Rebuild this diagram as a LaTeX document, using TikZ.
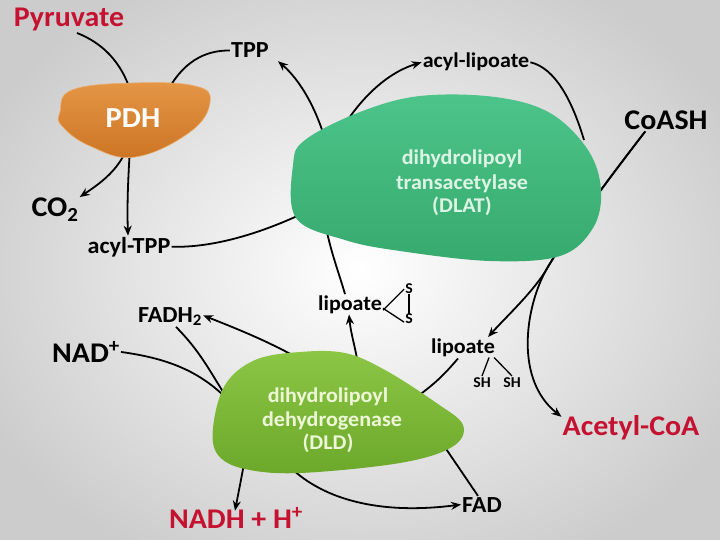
\documentclass[tikz,border=0pt]{standalone}
\usepackage{fontspec}
\setmainfont{Carlito}[FakeStretch=1.05]
\usetikzlibrary{arrows.meta}
\definecolor{crim}{HTML}{C41230}
\definecolor{pdhT}{HTML}{E49645}
\definecolor{pdhB}{HTML}{CC7424}
\definecolor{dlatT}{HTML}{4CC48A}
\definecolor{dlatB}{HTML}{37AA6E}
\definecolor{dldT}{HTML}{8CC645}
\definecolor{dldB}{HTML}{6CA82A}
\definecolor{dlatTxt}{HTML}{DDF3E4}
\definecolor{dldTxt}{HTML}{EEF6D8}
\tikzset{
  lbl/.style={font=\bfseries, inner sep=1pt, anchor=base, text=black},
  big/.style={lbl, font=\bfseries\fontsize{28.5}{32}\selectfont},
  mid/.style={lbl, font=\bfseries\fontsize{23}{27}\selectfont},
  sml/.style={lbl, font=\bfseries\fontsize{21}{25}\selectfont},
  tiny/.style={lbl, font=\bfseries\fontsize{15}{17}\selectfont},
  enz/.style={inner sep=0pt, anchor=base, font=\bfseries\fontsize{21}{25}\selectfont},
  conn/.style={line width=1.8pt, black},
  arr/.style={conn, -{Stealth[length=10pt,width=8pt]}},
  bond/.style={line width=1.3pt, black},
}
\begin{document}
\begin{tikzpicture}[x=1pt,y=-1pt]
\useasboundingbox (0,0) rectangle (720,540);
\shade[inner color=white, outer color={rgb,255:red,204;green,204;blue,204}] (-60,-60) rectangle (780,600);

% labels
\node[big, text=crim] (pyr) at (69,27) {Pyruvate};
\node[mid] (tpp) at (250,58) {TPP};
\node[big] (co2) at (55,217) {CO\textsubscript{2}};
\node[mid] (acyltpp) at (129,253) {acyl-TPP};
\node[sml] (acyllip) at (476,68) {acyl-lipoate};
\node[big] (coash) at (666,130) {CoASH};
\node[big, text=crim] (acoa) at (631,435) {Acetyl-CoA};
\node[sml] (lipsh) at (463,353) {lipoate};
\node[tiny] (sh1) at (482,387) {SH};
\node[tiny] (sh2) at (512,387) {SH};
\node[sml] (lipss) at (350,310) {lipoate};
\node[tiny] (s1) at (409,293) {S};
\node[tiny] (s2) at (409,323) {S};
\node[mid] (fadh) at (170,322) {FADH\textsubscript{2}};
\node[big] (nad) at (86,362) {NAD\textsuperscript{+}};
\node[big, text=crim] (nadh) at (236,528) {NADH + H\textsuperscript{+}};
\node[mid] (fad) at (482,512) {FAD};

% attachment points inside the enzymes
\coordinate (pdhA) at (132,96);
\coordinate (pdhB) at (166,94);
\coordinate (pdhC) at (127,148);
\coordinate (pdhD) at (130,148);
\coordinate (dlatA) at (310,210);
\coordinate (dlatB) at (330,150);
\coordinate (dlatC) at (328,150);
\coordinate (dlatD) at (325,222);
\coordinate (dlatE) at (584,140);
\coordinate (dldA) at (415,398);
\coordinate (dldB) at (358,365);
\coordinate (dldC) at (305,362);
\coordinate (dldD) at (230,402);
\coordinate (dldE) at (245,458);
\coordinate (dldF) at (285,462);
\coordinate (dldG) at (440,440);

% connectors
\draw[conn] (77,33) .. controls (100,42) and (122,60) .. (pdhA);
\draw[conn] (tpp.west) .. controls (205,50) and (182,62) .. (pdhB);
\draw[arr] (pdhC) .. controls (118,172) and (96,186) .. (co2.north east);
\draw[arr] (pdhD) .. controls (128,180) and (127,205) .. ([xshift=-1pt]acyltpp.north);
\draw[conn] (acyltpp.east) .. controls (215,248) and (265,232) .. (dlatA);
\draw[arr] (dlatB) .. controls (350,110) and (380,75) .. (acyllip.west);
\draw[arr] (dlatC) .. controls (318,110) and (300,80) .. ([xshift=8pt,yshift=-2pt]tpp.south east);
\draw[conn] ([xshift=-5pt]lipss.north) .. controls (338,270) and (330,250) .. (dlatD);
\draw[conn] (acyllip.east) .. controls (555,68) and (572,100) .. (dlatE);
\draw[arr] ([xshift=22pt]coash.south west) .. controls (600,190) and (560,245) .. (545,272)
   .. controls (530,295) and (505,318) .. ([xshift=-8pt]lipsh.north east);
\draw[arr] ([xshift=22pt]coash.south west) .. controls (600,190) and (560,245) .. (545,272)
   .. controls (525,310) and (515,380) .. ([yshift=-3pt]acoa.north west);
\draw[conn] ([xshift=-5pt,yshift=-1pt]lipsh.south) .. controls (448,370) and (438,382) .. (dldA);
\draw[arr] (dldB) .. controls (355,345) and (351,335) .. ([xshift=-1pt]lipss.south);
\draw[arr] (dldC) .. controls (270,342) and (240,330) .. ([yshift=1pt]fadh.east);
\draw[conn] ([xshift=6pt]fadh.south) .. controls (204,355) and (214,380) .. (dldD);
\draw[conn] (nad.east) .. controls (165,358) and (200,370) .. (dldD);
\draw[arr] (dldE) .. controls (242,475) and (239,490) .. ([xshift=-1pt,yshift=-4pt]nadh.north);
\draw[arr] (dldF) .. controls (320,500) and (380,515) .. (fad.west);
\draw[conn] ([xshift=-4pt]fad.north) -- (dldG);
% S-S bridge and SH branches
\draw[bond] ([yshift=-6pt]lipss.east) -- ([yshift=-1pt]s1.west);
\draw[bond] ([yshift=-4pt]lipss.east) -- ([yshift=-4pt]s2.west);
\draw[bond] (s1.south) -- ([yshift=-2pt]s2.north);
\draw[bond] ([xshift=-7pt]lipsh.south east) -- (sh1.north);
\draw[bond] ([xshift=-2pt]lipsh.south east) -- (sh2.north);

% enzymes
\shade[top color=pdhT, bottom color=pdhB, draw=pdhT!80!white, line width=0.6pt]
  plot[smooth cycle, tension=0.7] coordinates {(60,112) (72,90) (133,83) (195,86) (210,102) (190,132) (135,157) (90,146) (62,126)};
\node[enz, text=white, font=\bfseries\fontsize{29}{32}\selectfont] (pdh) at (133,128) {PDH};

\shade[top color=dlatT, bottom color=dlatB]
  plot[smooth cycle, tension=0.6] coordinates {(293,165) (305,140) (360,112) (420,96) (495,97) (550,113) (588,150) (601,190) (593,228) (560,256) (490,261) (400,251) (345,240) (296,218)};
\node[enz, text=dlatTxt] (dlat1) at (462,165) {dihydrolipoyl};
\node[enz, text=dlatTxt] (dlat2) at (462,190) {transacetylase};
\node[enz, text=dlatTxt] (dlat3) at (462,213) {(DLAT)};

\shade[top color=dldT, bottom color=dldB]
  plot[smooth cycle, tension=0.6] coordinates {(213,428) (225,385) (255,360) (300,352) (345,353) (385,370) (435,402) (463,425) (452,447) (400,463) (300,473) (245,469) (218,455)};
\node[enz, text=dldTxt] (dld1) at (328,402) {dihydrolipoyl};
\node[enz, text=dldTxt] (dld2) at (332,426) {dehydrogenase};
\node[enz, text=dldTxt] (dld3) at (328,449) {(DLD)};
\end{tikzpicture}
\end{document}
